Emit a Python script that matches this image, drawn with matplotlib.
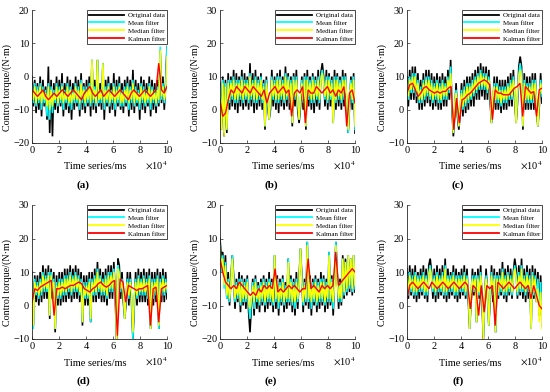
import numpy as np
import matplotlib
matplotlib.use("Agg")
import matplotlib.pyplot as plt
from matplotlib.lines import Line2D

plt.rcParams['font.family'] = ['Liberation Serif', 'DejaVu Serif']
plt.rcParams['mathtext.fontset'] = 'stix'

series_names = ["Original data", "Mean filter", "Median filter", "Kalman filter"]
series_colors = ["#000000", "#00FFFF", "#FFFF00", "#FF0000"]
panel_labels = ["(a)", "(b)", "(c)", "(d)", "(e)", "(f)"]
x_tick_values = [0, 20000, 40000, 60000, 80000, 100000]
x_tick_labels = ["0", "2", "4", "6", "8", "10"]
t_max = 100000

# ---------------- (a) ----------------
a_orig = [0, -9, -1, -11, -2, -10, 0, -12, -1, -9,
          -3, -13, 3, -17, -1, -18, -2, -10, 0, -11,
          -1, -9, 1, -12, -2, -10, 0, -11, -1, -13,
          -2, -10, 0, -9, -1, -12, 1, -10, -2, -11,
          -1, -9, 0, -12, 5, -10, -1, -11, 5, -9,
          -2, -10, 4, -13, -1, -9, 0, -11, -2, -10,
          1, -12, -1, -9, 0, -10, -2, -11, -1, -9,
          0, -12, -1, -10, 2, -11, -1, -9, -2, -13,
          0, -10, -1, -11, -2, -9, 0, -12, -1, -10,
          -2, -11, -1, -9, 8, -8, 0, -10, -2, 9]
a_mean = [-3, -8, -2, -9, -3, -8, -2, -10, -3, -8,
          -4, -12, -2, -13, -3, -11, -4, -8, -2, -9,
          -3, -8, -2, -10, -4, -8, -2, -9, -3, -10,
          -4, -8, -2, -8, -3, -10, -1, -8, -3, -9,
          -3, -8, -2, -9, 5, -8, -3, -9, 5, -8,
          -4, -8, 4, -10, -3, -8, -2, -9, -4, -8,
          -2, -10, -3, -8, -2, -9, -4, -9, -3, -8,
          -2, -10, -3, -8, -1, -9, -3, -8, -4, -10,
          -2, -8, -3, -9, -4, -8, -2, -10, -3, -8,
          -4, -9, -3, -8, 9, -7, -2, -8, -4, 9]
a_med = [-4, -7, -3, -8, -4, -7, -3, -8, -4, -7,
         -5, -9, -3, -10, -4, -9, -5, -7, -3, -8,
         -4, -7, -3, -8, -5, -7, -3, -8, -4, -8,
         -5, -7, -3, -7, -4, -8, -2, -7, -4, -8,
         -4, -7, -3, -8, 5, -7, -4, -8, 5, -7,
         -5, -7, 4, -8, -4, -7, -3, -8, -5, -7,
         -3, -8, -4, -7, -3, -8, -5, -8, -4, -7,
         -3, -8, -4, -7, -2, -8, -4, -7, -5, -8,
         -3, -7, -4, -8, -5, -7, -3, -8, -4, -7,
         -5, -8, -4, -7, 8, -6, -3, -7, -5, 6]
a_kal = [-4, -5, -6, -5, -4, -6, -7, -6, -5, -6,
         -5, -4, -5, -6, -5, -4, -5, -6, -7, -5,
         -4, -3, -5, -6, -5, -4, -6, -5, -4, -5,
         -6, -5, -4, -5, -6, -7, -5, -4, -5, -6,
         -5, -4, -5, -6, -5, -4, 4, -4, -5, -3]

# ---------------- (b) ----------------
b_orig = [8, -6, 10, -8, 9, -7, 11, 0, 10, 1,
          12, 0, 11, -1, 10, 1, 12, 0, 11, 1,
          10, 0, 14, 1, 11, -1, 12, 0, 10, 1,
          11, 0, 9, -6, 10, 1, -3, 0, 12, 1,
          10, 0, 11, -1, 12, 1, 10, 0, 13, 1,
          11, 0, 10, -5, 11, 1, 12, 0, -4, 1,
          10, 0, 11, -6, 12, 1, 10, 0, 11, -1,
          10, 1, 12, 0, 11, 14, 10, 1, 12, 0,
          11, 1, 10, -4, 12, 0, 11, 1, 10, 0,
          12, 1, 11, 0, -7, 1, 10, 0, 11, -7]
b_mean = [7, -5, 9, -7, 8, -6, 9, 2, 9, 3,
          10, 2, 9, 2, 9, 3, 10, 2, 9, 3,
          9, 2, 11, 3, 9, 2, 10, 2, 9, 3,
          10, 2, 8, -5, 9, 3, -3, 2, 10, 3,
          9, 2, 10, 2, 10, 3, 9, 2, 11, 3,
          10, 2, 9, -4, 10, 3, 10, 2, -3, 3,
          9, 2, 10, -5, 10, 3, 9, 2, 10, 2,
          9, 3, 10, 2, 10, 12, 9, 3, 10, 2,
          10, 3, 9, -4, 10, 2, 10, 3, 9, 2,
          10, 3, 10, 2, -7, 3, 9, 2, 10, -6]
b_med = [6, -6, 8, -8, 7, -6, 8, 3, 8, 4,
         9, 3, 8, 3, 8, 4, 9, 3, 8, 4,
         8, 3, 10, 4, 8, 3, 9, 3, 8, 4,
         9, 3, 7, -5, 8, 4, -3, 3, 9, 4,
         8, 3, 9, 3, 9, 4, 8, 3, 10, 4,
         9, 3, 8, -4, 9, 4, 9, 3, -3, 4,
         8, 3, 9, -5, 9, 4, 8, 3, 9, 3,
         8, 4, 9, 3, 9, 11, 8, 4, 9, 3,
         9, 4, 8, -4, 9, 3, 9, 4, 8, 3,
         9, 4, 9, 3, -6, 4, 8, 3, 9, -5]
b_kal = [3, -2, -1, 3, 6, 5, 7, 6, 5, 7,
         6, 5, 7, 6, 5, 4, 6, 2, 5, 6,
         7, 5, 6, 7, 5, 6, -2, 5, 6, 5,
         7, -4, 6, 5, 5, 7, 6, 5, 6, 7,
         5, 6, 4, 6, 5, 7, -5, 5, 6, 2]

# ---------------- (c) ----------------
c_orig = [10, 1, 12, 3, 13, 3, 13, 2, 11, 0,
          9, 0, 11, 1, 12, 2, 12, 1, 11, 0,
          10, 1, 11, 0, 10, 0, 11, 1, 10, 1,
          12, 3, 15, 0, -8, -1, 8, -2, -6, -1,
          8, -2, 9, -1, 10, 0, 10, 1, 11, 1,
          12, 3, 13, 3, 14, 4, 13, 3, 13, 3,
          12, 2, -4, 1, 10, 0, 10, 0, 9, -1,
          9, 0, 9, 0, 10, 1, 11, 1, 12, 3,
          -4, 2, 13, 16, 13, -6, 11, 0, 10, 0,
          10, 0, 11, 0, 11, 0, -5, 1, 11, 2]
c_mean = [8, 3, 10, 5, 11, 5, 11, 4, 9, 2,
          7, 2, 9, 3, 10, 4, 10, 3, 9, 2,
          8, 3, 9, 2, 8, 2, 9, 3, 8, 3,
          10, 5, 13, 2, -7, 1, 6, 0, -5, 1,
          6, 0, 7, 1, 8, 2, 8, 3, 9, 4,
          10, 5, 11, 6, 12, 6, 11, 6, 11, 5,
          10, 4, -4, 3, 8, 2, 8, 2, 7, 1,
          7, 2, 7, 2, 8, 3, 9, 3, 10, 5,
          -4, 4, 11, 14, 11, -5, 9, 2, 8, 2,
          8, 2, 9, 2, 9, 2, -5, 3, 9, 4]
c_med = [7, 4, 9, 6, 10, 6, 10, 5, 8, 3,
         6, 3, 8, 4, 9, 5, 9, 4, 8, 3,
         7, 4, 8, 3, 7, 3, 8, 4, 7, 4,
         9, 6, 11, 3, -7, 2, 5, 1, -5, 2,
         5, 1, 6, 2, 7, 3, 7, 4, 8, 5,
         9, 6, 10, 7, 11, 7, 10, 7, 10, 6,
         9, 5, -4, 4, 7, 3, 7, 3, 6, 2,
         6, 3, 6, 3, 7, 4, 8, 4, 9, 6,
         -4, 5, 10, 12, 10, -5, 8, 3, 7, 3,
         7, 3, 8, 3, 8, 3, -5, 4, 8, 5]
c_kal = [5, 7.5, 8, 6, 4, 5, 6.5, 7, 6, 5.5,
         5, 5.5, 5, 5.5, 5.5, 6.5, 7, -6, 3.5, -4,
         3, 3.5, 4.5, 5, 6, 7, 8, 8.5, 9, 8.5,
         7.5, -3, 6, 5, 5, 4.5, 4.5, 4.5, 5.5, 6.5,
         7, 8, -2, 7, 6, 5, 5.5, -2, 6, 6.5]

# ---------------- (d) ----------------
d_orig = [10, -6, 9, 1, 9, 0, 10, 1, 12, 2,
          11, 2, 12, -4, 11, 2, 10, -8, 9, 0,
          10, 0, 10, 1, 11, 1, 11, 2, 12, 1,
          11, 2, 12, 2, 11, 1, 10, -6, 9, 0,
          9, 0, 10, -5, 10, 1, 11, 1, 13, 2,
          11, 1, 10, 1, 11, 0, 12, 2, 12, 2,
          13, 3, -10, 14, 12, 2, 10, 1, -4, 1,
          10, 0, 10, 1, -10, 0, 10, 0, 11, 1,
          10, 1, 11, 1, 10, 0, 11, -7, 10, 0,
          10, 1, 11, -7, 10, 1, 11, 1, 10, 2]
d_mean = [9, -7, 8, 3, 7, 2, 8, 3, 10, 4,
          9, 4, 10, -3, 10, 4, 8, -7, 7, 2,
          8, 2, 8, 3, 9, 3, 9, 4, 10, 3,
          9, 4, 10, 4, 9, 3, 8, -5, 7, 2,
          7, 2, 8, -5, 8, 3, 9, 3, 11, 4,
          9, 3, 8, 3, 9, 2, 10, 4, 10, 4,
          11, 5, -9, 12, 10, 4, 8, 3, -4, 3,
          8, 2, 8, 3, -10, 2, 8, 2, 9, 3,
          8, 3, 9, 3, 8, 2, 9, -7, 8, 2,
          8, 3, 9, -7, 8, 3, 9, 3, 8, 4]
d_med = [8, -6, 7, 4, 6, 3, 7, 4, 9, 5,
         8, 5, 9, -3, 9, 5, 7, -7, 6, 3,
         7, 3, 7, 4, 8, 4, 8, 5, 9, 4,
         8, 5, 9, 5, 8, 4, 7, -5, 6, 3,
         6, 3, 7, -4, 7, 4, 8, 4, 10, 5,
         8, 4, 7, 4, 8, 3, 9, 5, 9, 5,
         10, 6, -10, 11, 9, 5, 7, 4, -4, 4,
         7, 3, 7, 4, -8, 3, 7, 3, 8, 4,
         7, 4, 8, 4, 7, 3, 8, -7, 7, 3,
         7, 4, 8, -6, 7, 4, 8, 4, 7, 5]
d_kal = [1, 5, 4.5, 5.5, 6, 6.5, 7, 7.5, -3, 5,
         5, 5.5, 5, 5.5, 6, 6, 6.5, 7, 6.5, 5,
         4.5, 4, 5, 5.5, 6.5, 7, 6, 5.5, 6, 7,
         7.5, -9, 8, 7, 1, 6, 5.5, 5, 4.5, 5,
         5, 5.5, 6, -6, 5, 5.5, -5, 5, 5.5, 6]

# ---------------- (e) ----------------
e_orig = [10, 4, 6, -3, 5, -8, 0, -10, -2, 5,
          -1, -11, -2, -9, 0, -12, -1, -10, -2, -11,
          -1, -12, -18, -10, -2, -13, -1, -11, -3, -12,
          -2, -10, -1, -12, -2, -11, 0, -10, -2, -12,
          5, -11, -1, -13, -2, -10, -1, -12, -3, -11,
          4, -10, -1, -12, -2, -13, 0, -11, -2, 7,
          -1, -12, -2, -10, 9, -11, -1, -13, -2, -10,
          -1, -12, -2, -11, 0, -10, -1, -12, -2, -11,
          6, -10, -1, -13, -2, 9, -1, -11, -2, -10,
          5, -8, 4, -7, 5, -6, 4, -7, 5, -6]
e_mean = [8, 0, 5, -5, 3, -8, -2, -9, -3, 5,
          -2, -9, -3, -8, -2, -10, -2, -9, -3, -9,
          -2, -10, -14, -9, -3, -11, -2, -9, -4, -10,
          -3, -9, -2, -10, -3, -9, -2, -9, -3, -10,
          5, -9, -2, -11, -3, -9, -2, -10, -4, -9,
          4, -9, -2, -10, -3, -11, -2, -9, -3, 7,
          -2, -10, -3, -9, 9, -9, -2, -11, -3, -9,
          -2, -10, -3, -9, -2, -9, -2, -10, -3, -9,
          6, -9, -2, -11, -3, 9, -2, -9, -3, -9,
          4, -7, 3, -6, 5, -5, 4, -6, 5, -5]
e_med = [7, 1, 4, -4, 2, -7, -3, -8, -4, 4,
         -3, -8, -4, -7, -3, -9, -3, -8, -4, -8,
         -3, -9, -11, -8, -4, -9, -3, -8, -5, -9,
         -4, -8, -3, -9, -4, -8, -3, -8, -4, -9,
         5, -8, -3, -9, -4, -8, -3, -9, -5, -8,
         3, -8, -3, -9, -4, -9, -3, -8, -4, 7,
         -3, -9, -4, -8, 8, -8, -3, -9, -4, -8,
         -3, -9, -4, -8, -3, -8, -3, -9, -4, -8,
         5, -8, -3, -9, -4, 8, -3, -8, -4, -8,
         4, -6, 3, -5, 5, -4, 4, -5, 5, -4]
e_kal = [4, 0, -3, -4, -5, -4, -5, -3, -4, -5,
         -6, -7, -6, -7, -5, -6, -4, -5, -4, -5,
         1, -6, -5, -6, -5, -4, -5, -4, -5, -6,
         -5, -5, 4, -5, -4, -5, -6, -4, -5, -4,
         -5, -4, 6, -4, -3, -2, -1, 0, 1, 0]

# ---------------- (f) ----------------
f_orig = [11, 2, 12, 3, 11, 2, 12, 1, 10, 2,
          11, 3, 12, 2, 11, 1, 12, 14, 10, 2,
          11, 1, 12, 2, 11, 3, 12, 2, 14, 1,
          11, 2, 10, 3, 12, 2, 11, 1, 10, 2,
          11, 3, 12, 2, 11, 1, -7, 2, 11, 3,
          10, -5, 11, 2, 12, 1, -10, 2, 11, 3,
          -6, 2, 12, 1, 11, -8, 10, 2, 11, 3,
          13, 2, 11, 1, 12, 3, 11, 2, 10, 14,
          11, 2, 12, 3, 14, 2, 11, 1, 12, 2,
          11, -7, 12, 2, 11, 1, 10, -3, 9, -6]
f_mean = [9, 3, 10, 4, 9, 3, 10, 3, 9, 4,
          9, 4, 10, 3, 9, 3, 10, 12, 9, 4,
          9, 3, 10, 4, 9, 4, 10, 3, 12, 3,
          9, 4, 9, 4, 10, 3, 9, 3, 9, 4,
          9, 4, 10, 3, 9, 3, -7, 4, 9, 4,
          9, -5, 9, 3, 10, 3, -9, 3, 9, 4,
          -6, 4, 10, 3, 9, -8, 9, 3, 9, 4,
          11, 3, 9, 3, 10, 4, 9, 3, 9, 12,
          9, 3, 10, 4, 12, 4, 9, 3, 10, 4,
          9, -7, 10, 3, 9, 2, 8, -3, 7, -6]
f_med = [8, 4, 9, 5, 8, 4, 9, 4, 8, 5,
         8, 5, 9, 4, 8, 4, 9, 11, 8, 5,
         8, 4, 9, 5, 8, 5, 9, 4, 11, 4,
         8, 5, 8, 5, 9, 4, 8, 4, 8, 5,
         8, 5, 9, 4, 8, 4, -7, 5, 8, 5,
         8, -5, 8, 4, 9, 4, -10, 4, 8, 5,
         -6, 5, 9, 4, 8, -8, 8, 4, 8, 5,
         10, 4, 8, 4, 9, 5, 8, 4, 8, 11,
         8, 4, 9, 5, 11, 5, 8, 4, 9, 5,
         8, -7, 9, 4, 8, 1, 5, -5, 4, -7]
f_kal = [2, 6, 7, 6, 5, 6, 7, 6, 5, 7,
         6, 5, 6, 7, 6, 5, 6, 7, 6, 5,
         6, 7, 6, -1, 6, 5, -3, 6, -2, 6,
         5, 6, -6, 7, 6, 5, 6, 7, 6, 5,
         6, 7, 6, 5, 6, 2, 6, 3, 0, -1]

panel_data = [
    (a_orig, a_mean, a_med, a_kal),
    (b_orig, b_mean, b_med, b_kal),
    (c_orig, c_mean, c_med, c_kal),
    (d_orig, d_mean, d_med, d_kal),
    (e_orig, e_mean, e_med, e_kal),
    (f_orig, f_mean, f_med, f_kal),
]
panel_ylims = [(-20, 20), (-10, 30), (-10, 30), (-10, 30), (-20, 20), (-10, 30)]

# ---------------- layout (pixels) ----------------
W, H = 550, 392
col_left = [32, 220, 407]
row_top = [10, 205]
ax_w = 135
ax_h = [133, 134]

fig = plt.figure(figsize=(W / 100, H / 100), dpi=100)
axis_color = "#262626"
fs = 7.5


def fx(x):
    return x / W


def fy(y):
    return 1 - y / H


for k in range(6):
    r, c = divmod(k, 3)
    L, T, h = col_left[c], row_top[r], ax_h[r]
    ax = fig.add_axes([fx(L), fy(T + h), ax_w / W, h / H])
    orig, mean, med, kal = panel_data[k]
    widths = [1.2, 1.1, 1.0, 1.0]
    for vals, col, lw in zip((orig, mean, med, kal), series_colors, widths):
        xs = np.linspace(0, t_max, len(vals))
        ax.plot(xs, vals, color=col, lw=lw, solid_joinstyle='miter')
    ylo, yhi = panel_ylims[k]
    ax.set_xlim(0, t_max)
    ax.set_ylim(ylo, yhi)
    ax.set_xticks(x_tick_values)
    ax.set_xticklabels(x_tick_labels)
    ax.set_yticks(np.arange(ylo, yhi + 1, 10))
    for s in ("top", "right"):
        ax.spines[s].set_visible(False)
    for s in ("left", "bottom"):
        ax.spines[s].set_color(axis_color)
        ax.spines[s].set_linewidth(0.6)
    ax.tick_params(direction="in", length=2, width=0.5, colors=axis_color,
                   labelcolor="black", labelsize=fs, pad=2)
    handles = [Line2D([], [], color=col, lw=1.3) for col in series_colors]
    leg = ax.legend(handles, series_names, loc="upper right", bbox_to_anchor=(1.0, 1.0),
                    borderaxespad=0, fontsize=5, frameon=True, fancybox=False,
                    framealpha=1, edgecolor="black", handlelength=5.0,
                    handletextpad=0.5, labelspacing=0.3, borderpad=0.3)
    leg.get_frame().set_linewidth(0.5)
    # axis texts
    fig.text(fx(L - 25), fy(T + h / 2 + 11), "Control torque/(N\u00b7m)", rotation=90,
             ha="center", va="center", fontsize=7.2)
    fig.text(fx(L + 63), fy(T + h + 24), "Time series/ms", ha="center", va="center",
             fontsize=fs)
    fig.text(fx(L + 124), fy(T + h + 23), r"$\times$10$^{4}$", ha="center", va="center",
             fontsize=fs)
    fig.text(fx(L + 51), fy(T + h + 42), panel_labels[k], ha="center", va="center",
             fontsize=8, fontweight="bold")

fig.savefig("out.png", dpi=100)
